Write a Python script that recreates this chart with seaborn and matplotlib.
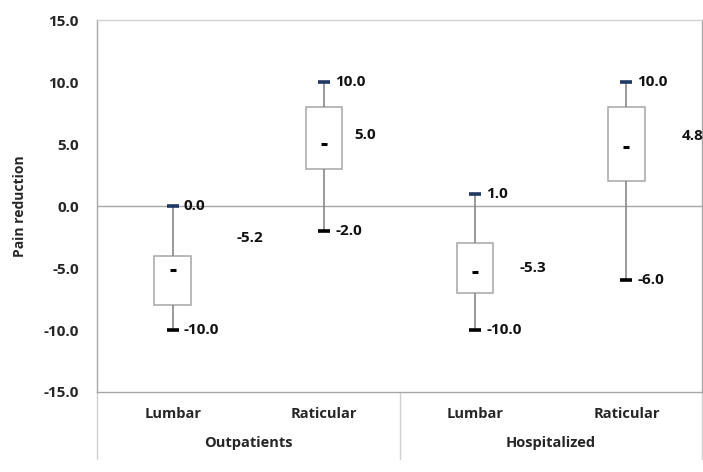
import numpy as np
import pandas as pd
import matplotlib as mpl
mpl.use('Agg')
import matplotlib.pyplot as plt
import matplotlib.transforms as mtrans
import seaborn as sns

# data
groups = ['Outpatients', 'Outpatients', 'Hospitalized', 'Hospitalized']
sites = ['Lumbar', 'Raticular', 'Lumbar', 'Raticular']
mins = [-10.0, -2.0, -10.0, -6.0]
q1s = [-8.0, 3.0, -7.0, 2.0]
means = [-5.2, 5.0, -5.3, 4.8]
q3s = [-4.0, 8.0, -3.0, 8.0]
maxs = [0.0, 10.0, 1.0, 10.0]
yticks = [-15, -10, -5, 0, 5, 10, 15]

# where Excel dropped the mean labels (category offset, y value)
mean_lbl_dx = [0.51, 0.27, 0.38, 0.44]
mean_lbl_y = [-2.6, 5.75, -5.0, 5.65]

GREY = '#a6a6a6'
WHISK = '#7f7f7f'
NAVY = '#1f3864'


def main():
    keys = ['{0} {1}'.format(g, s) for g, s in zip(groups, sites)]
    rows = []
    for k, a, b, c, d, e in zip(keys, mins, q1s, means, q3s, maxs):
        for v in (a, b, c, d, e):
            rows.append({'cat': k, 'val': v})
    df = pd.DataFrame(rows)

    sns.set_style('white')
    plt.rcParams['font.family'] = ['Open Sans', 'DejaVu Sans']
    plt.rcParams['font.weight'] = 'bold'

    fig = plt.figure(figsize=(7.03, 4.72), dpi=100)
    ax = fig.add_axes([0.138, 0.1695, 0.8606, 0.788])

    ax.axhline(0, color=GREY, lw=1, zorder=0)

    sns.boxplot(data=df, x='cat', y='val', order=keys, width=0.24,
                whis=(0, 100), showcaps=False, color='white', linecolor=GREY,
                linewidth=1.1, ax=ax,
                whiskerprops={'color': WHISK, 'linewidth': 1.1},
                medianprops={'visible': False})

    cap_hi = pd.DataFrame({'cat': keys, 'val': maxs})
    cap_lo = pd.DataFrame({'cat': keys, 'val': mins})
    cap_mid = pd.DataFrame({'cat': keys, 'val': means})
    sns.stripplot(data=cap_hi, x='cat', y='val', order=keys, jitter=False,
                  marker='_', size=9, linewidth=2.6, color=NAVY, ax=ax, zorder=5)
    sns.stripplot(data=cap_lo, x='cat', y='val', order=keys, jitter=False,
                  marker='_', size=9, linewidth=2.6, color='black', ax=ax, zorder=5)
    sns.stripplot(data=cap_mid, x='cat', y='val', order=keys, jitter=False,
                  marker='_', size=5, linewidth=2.2, color='black', ax=ax, zorder=5)

    fs = 11
    for i in range(len(keys)):
        for v in (maxs[i], mins[i]):
            ax.annotate('{0:.1f}'.format(v), xy=(i, v), xytext=(8, 0),
                        textcoords='offset points', ha='left', va='center',
                        fontsize=fs, fontweight='bold', color='#111111')
        ax.text(i + mean_lbl_dx[i], mean_lbl_y[i], '{0:.1f}'.format(means[i]),
                ha='center', va='center', fontsize=fs, fontweight='bold',
                color='#111111')

    ax.set_xlim(-0.5, len(keys) - 0.5)
    ax.set_ylim(-15, 15)
    ax.set_yticks(yticks)
    ax.set_yticklabels(['{0:.1f}'.format(t) for t in yticks], fontsize=fs,
                       fontweight='bold')
    ax.set_xticks(range(len(keys)))
    ax.set_xticklabels(sites, fontsize=10.5, fontweight='bold')
    ax.tick_params(axis='x', length=0, pad=11)
    ax.tick_params(axis='y', length=0, pad=13)
    ax.set_xlabel('')
    ax.set_ylabel('Pain reduction', fontsize=10, fontweight='bold', labelpad=12)

    for side in ['left', 'right', 'top', 'bottom']:
        ax.spines[side].set_visible(True)
        ax.spines[side].set_color('#d0d0d0' if side == 'top' else GREY)
        ax.spines[side].set_linewidth(1)

    # group separators and group names below the axis
    trans = mtrans.blended_transform_factory(ax.transData, ax.transAxes)
    for xb in (-0.5, 1.5, len(keys) - 0.5):
        ax.plot([xb, xb], [0, -0.18], transform=trans, color='#d0d0d0', lw=1,
                clip_on=False)
    for g in ('Outpatients', 'Hospitalized'):
        idx = [i for i, gg in enumerate(groups) if gg == g]
        ax.text(np.mean(idx), -0.136, g, transform=trans, ha='center',
                va='center', fontsize=10.5, fontweight='bold')

    plt.savefig('out.png', dpi=100)


if __name__ == '__main__':
    main()
